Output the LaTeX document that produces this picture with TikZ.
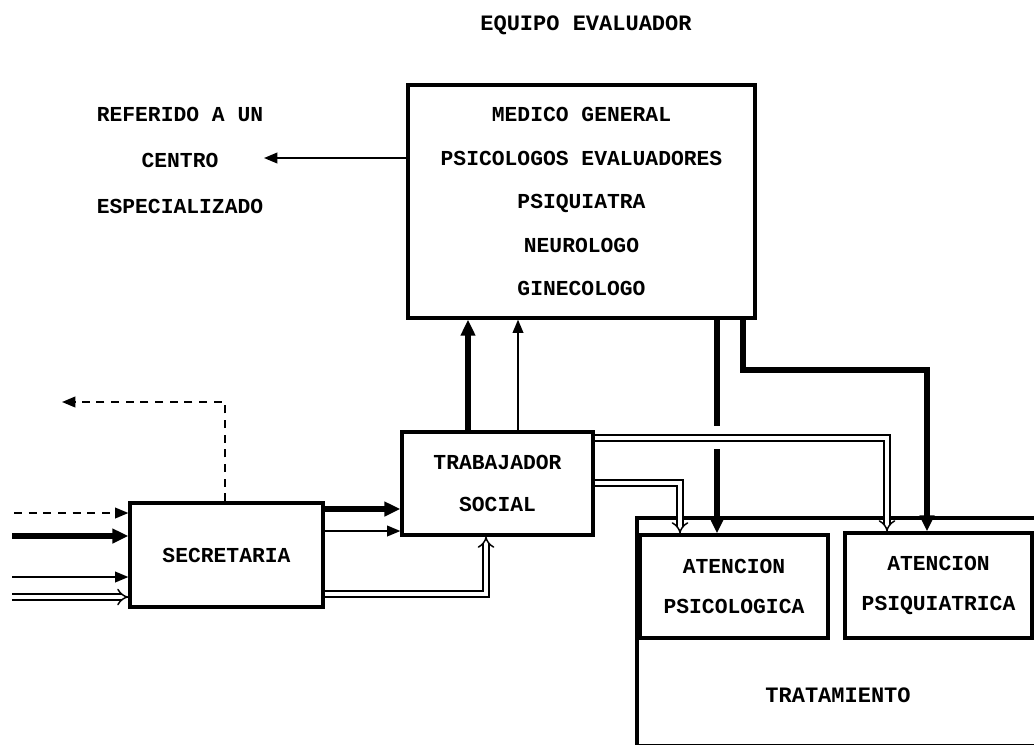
\documentclass[tikz,border=0pt]{standalone}
\usepackage{fontspec}
\setmonofont{Liberation Mono}
\usetikzlibrary{arrows.meta}

\begin{document}
\begin{tikzpicture}[
    x=0.75pt, y=-0.75pt,
    box/.style={draw, line width=2.4pt, inner sep=0pt, align=center,
                font=\ttfamily\bfseries\fontsize{16}{18}\selectfont},
    lbl/.style={inner sep=0pt, align=center,
                font=\ttfamily\bfseries\fontsize{16}{18}\selectfont},
    heavy/.style={line width=4.5pt, -{Triangle[length=12pt,width=10.5pt]}},
    light/.style={line width=1.3pt, -{Triangle[length=10pt,width=8pt]}},
    hollow/.style={double, line width=1.1pt, double distance=3.2pt, -{Implies}},
    dashedarrow/.style={line width=1.3pt, dash pattern=on 6pt off 5pt,
                        -{Triangle[length=10pt,width=8pt]}}
]
\useasboundingbox (0,0) rectangle (1034,744);

% =========================================================
% EVALUATING TEAM
% =========================================================
\node[lbl, font=\ttfamily\bfseries\fontsize{16.5}{18}\selectfont] (titulo) at (586,25)
     {EQUIPO EVALUADOR};

\node[box, minimum width=260.25pt, minimum height=174.75pt] (equipo) at (581.5,201.5)
     {MEDICO GENERAL\\[14.6pt] PSICOLOGOS EVALUADORES\\[14.6pt] PSIQUIATRA\\[14.6pt]
      NEUROLOGO\\[14.6pt] GINECOLOGO};

% referral to a specialised centre
\node[lbl] (referido) at (180,160)
     {REFERIDO A UN\\[16.5pt] CENTRO\\[16.5pt] ESPECIALIZADO};
\coordinate (refin) at (264,158);
\draw[light] (equipo.west |- refin) -- (refin);

% =========================================================
% INTAKE: secretary and social worker
% =========================================================
\node[box, minimum width=144.75pt, minimum height=78pt] (sec) at (226.5,555) {SECRETARIA};
\node[box, minimum width=143.25pt, minimum height=77.25pt] (ts) at (497.5,483.5)
     {TRABAJADOR\\[13.5pt] SOCIAL};

% incoming lines from the left
\coordinate (inA) at (14,513);
\coordinate (inB) at (12,536);
\coordinate (inC) at (12,577);
\coordinate (inD) at (12,597);
\draw[dashedarrow] (inA) -- (sec.west |- inA);
\draw[heavy] (inB) -- (sec.west |- inB);
\draw[light] (inC) -- (sec.west |- inC);
\draw[hollow] (inD) -- (sec.west |- inD);

% dashed exit upwards and back to the left
\coordinate (codo) at (225,402);
\coordinate (salida) at (62,402);
\draw[dashedarrow] (sec.north -| codo) -- (codo) -- (salida);

% secretary -> social worker
\draw[heavy] (sec.east |- 0,509) -- (ts.west |- 0,509);
\draw[light] (sec.east |- 0,531) -- (ts.west |- 0,531);
\draw[hollow] (sec.east |- 0,594) -- (486,594) -- (ts.south -| 486,0);

% social worker -> team
\draw[heavy] (ts.north -| 468,0) -- (equipo.south -| 468,0);
\draw[light] (ts.north -| 518,0) -- (equipo.south -| 518,0);

% =========================================================
% TREATMENT
% =========================================================
\node[box, minimum width=306pt, minimum height=171pt] (trat) at (841,632) {};
\node[lbl, font=\ttfamily\bfseries\fontsize{16.5}{18}\selectfont] (tratlbl) at (838,695)
     {TRATAMIENTO};

\node[box, minimum width=141pt, minimum height=77.25pt] (psico) at (734,586.5)
     {ATENCION\\[12.5pt] PSICOLOGICA};
\node[box, minimum width=140.25pt, minimum height=78.75pt] (psiq) at (938.5,585.5)
     {ATENCION\\[12.5pt] PSIQUIATRICA};

% team -> treatment, thick lines (the first one jumps the double line)
\draw[heavy] (equipo.south -| 717,0) -- (717,426) (717,449) -- (psico.north -| 717,0);
\draw[heavy] (equipo.south -| 743,0) -- (743,370) -- (927,370) -- (psiq.north -| 927,0);

% social worker -> treatment, double lines
\draw[hollow] (ts.east |- 0,483) -- (680,483) -- (psico.north -| 680,0);
\draw[hollow] (ts.east |- 0,438) -- (887,438) -- (psiq.north -| 887,0);

\end{tikzpicture}
\end{document}
